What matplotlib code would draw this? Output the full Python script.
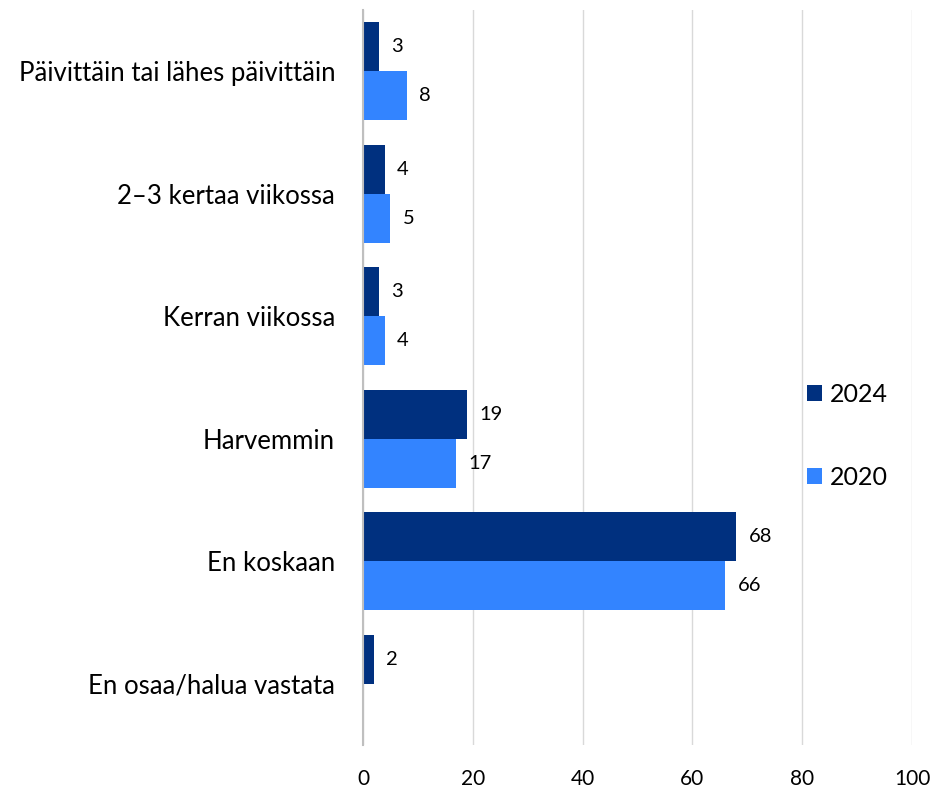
import numpy as np
import matplotlib.pyplot as plt

# %% Datos
categorias = ["Päivittäin tai lähes päivittäin", "2–3 kertaa viikossa",
              "Kerran viikossa", "Harvemmin", "En koskaan",
              "En osaa/halua vastata"]
v2024 = [3, 4, 3, 19, 68, 2]
v2020 = [8, 5, 4, 17, 66, None]

c2024 = "#00307f"
c2020 = "#3384ff"

plt.rcParams['font.family'] = ['Lato', 'DejaVu Sans']

# %% Gráfico
fig = plt.figure(figsize=(9.33, 7.89), dpi=100)
ax = fig.add_axes([363/933, 1 - 745/789, (912-363)/933, (745-10)/789])

y = np.arange(len(categorias))
h = 0.4
for i in range(len(categorias)):
    ax.barh(y[i] - h/2, v2024[i], height=h, color=c2024,
            label="2024" if i == 0 else None)
    ax.text(v2024[i] + 2.2, y[i] - h/2, str(v2024[i]), va="center",
            ha="left", fontsize=14.5)
    if v2020[i] is not None:
        ax.barh(y[i] + h/2, v2020[i], height=h, color=c2020,
                label="2020" if i == 0 else None)
        ax.text(v2020[i] + 2.2, y[i] + h/2, str(v2020[i]), va="center",
                ha="left", fontsize=14.5)

ax.set_ylim(len(categorias) - 0.5, -0.5)
ax.set_xlim(0, 100)
ax.set_xticks(np.arange(0, 101, 20))
ax.set_yticks(y)
ax.set_yticklabels(categorias, fontsize=18.5)
ax.tick_params(axis="x", labelsize=15, length=0, pad=17)
ax.tick_params(axis="y", length=0, pad=20)
ax.grid(axis="x", color="#d9d9d9", linewidth=1)
ax.set_axisbelow(True)
for s in ["top", "right", "bottom"]:
    ax.spines[s].set_visible(False)
ax.spines["left"].set_color("#bfbfbf")
ax.spines["left"].set_linewidth(1.5)

ax.legend(loc="center left", bbox_to_anchor=(784/933, 1 - 436/789),
          bbox_transform=fig.transFigure, frameon=False, fontsize=18,
          handlelength=0.6, handleheight=0.6, handletextpad=0.35,
          labelspacing=2.4)

plt.savefig("out.png", dpi=100)
